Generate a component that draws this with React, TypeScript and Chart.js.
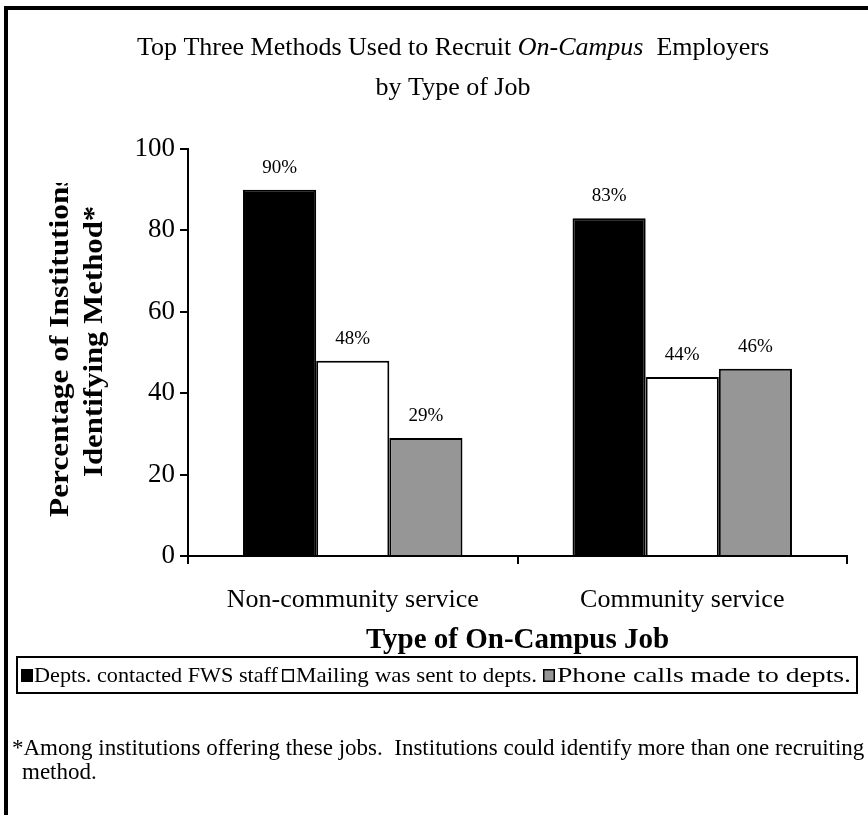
import React, { useEffect, useRef } from 'react';
import { Chart, registerables } from 'chart.js';

Chart.register(...registerables);

const categories = ['Non-community service', 'Community service'];
const seriesLabels = ['Depts. contacted FWS staff', 'Mailing was sent to depts.', 'Phone calls made to depts.'];
const deptsContactedValues = [90, 83];
const mailingSentValues = [48, 44];
const phoneCallsValues = [29, 46];
const seriesColors = ['#000000', '#ffffff', '#969696'];
const yTickValues = [0, 20, 40, 60, 80, 100];
const titleLine1 = [
  { text: 'Top Three Methods Used to Recruit ', italic: false },
  { text: 'On-Campus', italic: true },
  { text: '  Employers', italic: false },
];
const titleLine2 = 'by Type of Job';
const yTitleLines = ['Percentage of Institutions', 'Identifying Method*'];
const xTitle = 'Type of On-Campus Job';
const footnoteLines = [
  '*Among institutions offering these jobs.  Institutions could identify more than one recruiting',
  'method.',
];

const SERIF = '"Liberation Serif", "Times New Roman", serif';

// legend item layout (pixel positions of swatch, text start and text span)
const LEGEND_SWATCH_X = [21, 282, 543];
const LEGEND_TEXT_X = [34, 296, 557];
const LEGEND_TEXT_W = [244, 241, 294];

const decorPlugin = {
  id: 'decor',
  afterDraw(chart: any) {
    const ctx = chart.ctx as CanvasRenderingContext2D;
    ctx.save();
    // frame (left + top)
    ctx.fillStyle = '#000';
    ctx.fillRect(4, 6, 4, 815);
    ctx.fillRect(4, 6, 868, 4);

    // title
    ctx.fillStyle = '#000';
    ctx.textBaseline = 'middle';
    ctx.textAlign = 'left';
    const normal = `26px ${SERIF}`;
    const ital = `italic 26px ${SERIF}`;
    let total = 0;
    for (const p of titleLine1) {
      ctx.font = p.italic ? ital : normal;
      total += ctx.measureText(p.text).width;
    }
    let x = 453 - total / 2;
    for (const p of titleLine1) {
      ctx.font = p.italic ? ital : normal;
      ctx.fillText(p.text, x, 48);
      x += ctx.measureText(p.text).width;
    }
    ctx.font = normal;
    ctx.textAlign = 'center';
    ctx.fillText(titleLine2, 453, 88);

    // y title (clipped like the reference)
    ctx.save();
    ctx.beginPath();
    ctx.rect(0, 183, 188, 632);
    ctx.clip();
    ctx.font = `bold 28px ${SERIF}`;
    ctx.textAlign = 'left';
    ctx.textBaseline = 'alphabetic';
    const yBase = [68, 102];
    const yStart = [517, 477];
    const yStretch = [1.12, 1.1];
    yTitleLines.forEach((line, i) => {
      ctx.save();
      ctx.translate(yBase[i], yStart[i]);
      ctx.rotate(-Math.PI / 2);
      ctx.scale(yStretch[i], 1);
      ctx.fillText(line, 0, 0);
      ctx.restore();
    });
    ctx.restore();

    // x title
    ctx.font = `bold 29px ${SERIF}`;
    ctx.textAlign = 'center';
    ctx.textBaseline = 'middle';
    const ca = chart.chartArea;
    ctx.fillText(xTitle, (ca.left + ca.right) / 2, 641);

    // bar value labels
    ctx.font = `19px ${SERIF}`;
    ctx.textAlign = 'center';
    ctx.textBaseline = 'alphabetic';
    chart.data.datasets.forEach((ds: any, i: number) => {
      const meta = chart.getDatasetMeta(i);
      meta.data.forEach((el: any, j: number) => {
        ctx.fillText(`${ds.data[j]}%`, el.x, el.y - 17);
      });
    });

    // legend box
    ctx.lineWidth = 2;
    ctx.strokeStyle = '#000';
    ctx.strokeRect(17, 657, 840, 36);
    ctx.font = `22px ${SERIF}`;
    ctx.textAlign = 'left';
    ctx.textBaseline = 'middle';
    const ly = 675;
    chart.data.datasets.forEach((ds: any, i: number) => {
      const sx = LEGEND_SWATCH_X[i];
      ctx.fillStyle = ds.backgroundColor;
      ctx.fillRect(sx, ly - 6, 12, 13);
      ctx.lineWidth = 1.5;
      ctx.strokeStyle = '#000';
      ctx.strokeRect(sx + 0.75, ly - 5.25, 10.5, 11.5);
      ctx.fillStyle = '#000';
      const w = ctx.measureText(ds.label).width;
      ctx.save();
      ctx.translate(LEGEND_TEXT_X[i], ly + 1);
      ctx.scale(LEGEND_TEXT_W[i] / w, 1);
      ctx.fillText(ds.label, 0, 0);
      ctx.restore();
    });

    // footnote
    ctx.font = `23px ${SERIF}`;
    ctx.textAlign = 'left';
    ctx.textBaseline = 'middle';
    ctx.fillText(footnoteLines[0], 12, 749);
    ctx.fillText(footnoteLines[1], 22, 773);
    ctx.restore();
  },
};

export default function App() {
  const canvasRef = useRef<HTMLCanvasElement | null>(null);

  useEffect(() => {
    document.body.style.margin = '0';
    const canvas = canvasRef.current;
    if (!canvas) return;
    const chart = new Chart(canvas, {
      type: 'bar',
      data: {
        labels: categories,
        datasets: [
          { label: seriesLabels[0], data: deptsContactedValues, backgroundColor: seriesColors[0], borderColor: '#000', borderWidth: 2 },
          { label: seriesLabels[1], data: mailingSentValues, backgroundColor: seriesColors[1], borderColor: '#000', borderWidth: 2 },
          { label: seriesLabels[2], data: phoneCallsValues, backgroundColor: seriesColors[2], borderColor: '#000', borderWidth: 2 },
        ],
      },
      options: {
        animation: false,
        responsive: false,
        devicePixelRatio: 1,
        categoryPercentage: 0.666,
        barPercentage: 1.0,
        layout: { padding: { left: 0, top: 149, right: 21, bottom: 0 } },
        plugins: {
          legend: { display: false },
          title: { display: false },
          tooltip: { enabled: false },
        },
        scales: {
          x: {
            offset: true,
            grid: { display: true, drawOnChartArea: false, drawTicks: true, tickLength: 8, color: '#000', lineWidth: 2, offset: true },
            border: { display: true, color: '#000', width: 2 },
            ticks: { color: '#000', font: { family: SERIF, size: 26 }, padding: 21 },
            afterFit: (scale: any) => { scale.height = 259; },
          },
          y: {
            min: 0,
            max: 100,
            afterBuildTicks: (scale: any) => { scale.ticks = yTickValues.map((v) => ({ value: v })); },
            grid: { display: true, drawOnChartArea: false, drawTicks: true, tickLength: 8, color: '#000', lineWidth: 2 },
            border: { display: true, color: '#000', width: 2 },
            ticks: { color: '#000', font: { family: SERIF, size: 27 }, padding: 5 },
            afterFit: (scale: any) => { scale.width = 188; },
          },
        },
      },
      plugins: [decorPlugin],
    });
    return () => chart.destroy();
  }, []);

  return (
    <div style={{ width: 868, height: 815, background: '#fff' }}>
      <canvas ref={canvasRef} width={868} height={815} style={{ display: 'block', width: 868, height: 815 }} />
    </div>
  );
}
